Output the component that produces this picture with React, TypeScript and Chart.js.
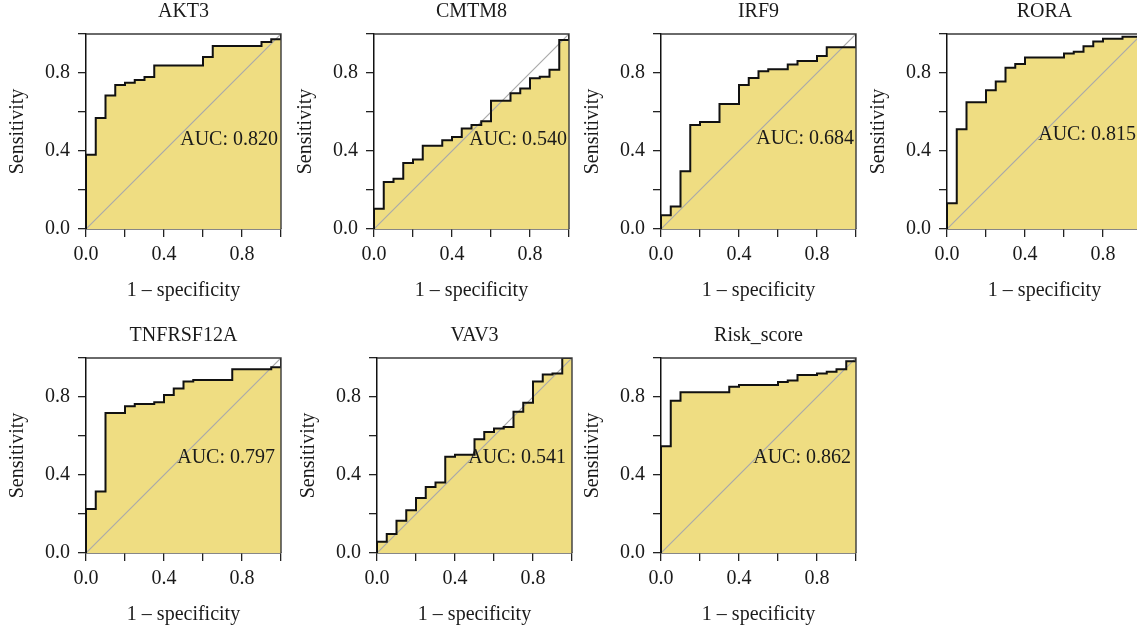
import { useEffect, useRef } from "react";
import { Chart, registerables } from "chart.js";

Chart.register(...registerables);

// ---- data -------------------------------------------------------------
const panelTitles = ["AKT3", "CMTM8", "IRF9", "RORA", "TNFRSF12A", "VAV3", "Risk_score"];
const aucValues = ["0.820", "0.540", "0.684", "0.815", "0.797", "0.541", "0.862"];
const tickLabels = ["0.0", "0.4", "0.8"];

// ROC vertices: 1 - specificity (x) and sensitivity (y) after each rise
const akt3Fpr = [0, 0, 0.05, 0.1, 0.15, 0.2, 0.25, 0.3, 0.35, 0.6, 0.65, 0.9, 0.95, 1];
const akt3Tpr = [0, 0.381, 0.569, 0.684, 0.738, 0.75, 0.764, 0.78, 0.838, 0.882, 0.938, 0.959, 0.973, 1];

const cmtm8Fpr = [0, 0, 0.05, 0.1, 0.15, 0.2, 0.25, 0.35, 0.4, 0.45, 0.5, 0.55, 0.6, 0.7, 0.75, 0.8, 0.85, 0.9, 0.95, 1];
const cmtm8Tpr = [0, 0.104, 0.241, 0.258, 0.338, 0.356, 0.427, 0.455, 0.472, 0.515, 0.533, 0.552, 0.658, 0.696, 0.72, 0.773, 0.781, 0.817, 0.969, 1];

const irf9Fpr = [0, 0, 0.05, 0.1, 0.15, 0.2, 0.3, 0.4, 0.45, 0.5, 0.55, 0.65, 0.7, 0.8, 0.85, 1];
const irf9Tpr = [0, 0.07, 0.115, 0.296, 0.533, 0.549, 0.641, 0.738, 0.774, 0.809, 0.819, 0.844, 0.862, 0.887, 0.932, 1];

const roraFpr = [0, 0, 0.05, 0.1, 0.2, 0.25, 0.3, 0.35, 0.4, 0.6, 0.65, 0.7, 0.75, 0.8, 0.9, 1];
const roraTpr = [0, 0.132, 0.511, 0.65, 0.711, 0.756, 0.827, 0.846, 0.88, 0.9, 0.909, 0.937, 0.961, 0.976, 0.986, 1];

const tnfrsf12aFpr = [0, 0, 0.05, 0.1, 0.2, 0.25, 0.35, 0.4, 0.45, 0.5, 0.55, 0.75, 0.95, 1];
const tnfrsf12aTpr = [0, 0.226, 0.316, 0.718, 0.752, 0.764, 0.773, 0.81, 0.844, 0.879, 0.887, 0.942, 0.952, 1];

const vav3Fpr = [0, 0, 0.05, 0.1, 0.15, 0.2, 0.25, 0.3, 0.35, 0.4, 0.5, 0.55, 0.6, 0.65, 0.7, 0.75, 0.8, 0.85, 0.9, 0.95, 1];
const vav3Tpr = [0, 0.058, 0.097, 0.166, 0.219, 0.282, 0.338, 0.362, 0.494, 0.504, 0.583, 0.62, 0.638, 0.646, 0.725, 0.771, 0.879, 0.915, 0.921, 1, 1];

const riskFpr = [0, 0, 0.05, 0.1, 0.35, 0.4, 0.6, 0.65, 0.7, 0.8, 0.85, 0.9, 0.95, 1];
const riskTpr = [0, 0.547, 0.781, 0.824, 0.853, 0.862, 0.877, 0.885, 0.913, 0.921, 0.93, 0.942, 0.983, 1];

const rocFpr = [akt3Fpr, cmtm8Fpr, irf9Fpr, roraFpr, tnfrsf12aFpr, vav3Fpr, riskFpr];
const rocTpr = [akt3Tpr, cmtm8Tpr, irf9Tpr, roraTpr, tnfrsf12aTpr, vav3Tpr, riskTpr];

// ---- layout -----------------------------------------------------------
const PLOT = 195; // plot square side
const LEFT_GUTTER = 86; // y axis area width
const TOP_GUTTER = 34; // space for panel title
const CANVAS_W = 291;
const CANVAS_H = 310;
const plotOrigins: [number, number][] = [
  [86, 34], [374, 34], [661, 34], [947, 34],
  [86, 358], [377, 358], [661, 358],
];
// AUC text: right inset in px and vertical anchor in data units
const aucPlacement = [
  { inset: 3, y: 0.46 }, { inset: 2, y: 0.46 }, { inset: 2, y: 0.464 }, { inset: 6, y: 0.485 },
  { inset: 6, y: 0.487 }, { inset: 6, y: 0.487 }, { inset: 5, y: 0.487 },
];

const FONT = "'Liberation Serif', 'Times New Roman', serif";
const FILL = "rgb(239,221,130)";

const panelDecor = {
  id: "panelDecor",
  afterDatasetsDraw(chart: any) {
    const { ctx, chartArea: a } = chart;
    ctx.save();
    ctx.strokeStyle = "#3a3a3a";
    ctx.lineWidth = 1.4;
    ctx.beginPath();
    ctx.moveTo(a.left, a.top);
    ctx.lineTo(a.right, a.top);
    ctx.lineTo(a.right, a.bottom);
    ctx.stroke();
    ctx.restore();
  },
  afterDraw(chart: any, _args: any, opts: any) {
    const { ctx, chartArea: a } = chart;
    const yScale = chart.scales.y;
    ctx.save();
    ctx.fillStyle = "#1a1a1a";
    ctx.font = `20px ${FONT}`;
    ctx.textBaseline = "middle";
    ctx.textAlign = "center";
    ctx.fillText(opts.title, (a.left + a.right) / 2, a.top - 22);
    ctx.textAlign = "right";
    ctx.fillText(`AUC: ${opts.auc}`, a.right - opts.inset, yScale.getPixelForValue(opts.y));
    ctx.restore();
  },
};

function tickLabel(v: number | string) {
  const s = Number(v).toFixed(1);
  return tickLabels.includes(s) ? s : "";
}

function RocPanel({ index }: { index: number }) {
  const ref = useRef<HTMLCanvasElement | null>(null);

  useEffect(() => {
    const canvas = ref.current;
    if (!canvas) return;
    const points = rocFpr[index].map((x, i) => ({ x, y: rocTpr[index][i] }));
    const axisCommon = {
      type: "linear" as const,
      min: 0,
      max: 1,
      z: 1,
      border: { display: true, color: "#111", width: 1.5 },
      grid: {
        display: true,
        drawOnChartArea: false,
        drawTicks: true,
        tickLength: 8,
        color: "#222",
        lineWidth: 1.3,
      },
    };
    const chart = new Chart(canvas, {
      type: "scatter",
      data: {
        datasets: [
          {
            data: points,
            showLine: true,
            stepped: "before",
            borderColor: "#111",
            borderWidth: 2,
            pointRadius: 0,
            fill: "origin",
            backgroundColor: FILL,
            tension: 0,
          },
          {
            data: [
              { x: 0, y: 0 },
              { x: 1, y: 1 },
            ],
            showLine: true,
            borderColor: "#a9a9a9",
            borderWidth: 1.2,
            pointRadius: 0,
            fill: false,
          },
        ],
      },
      options: {
        responsive: false,
        animation: false,
        events: [],
        layout: { padding: { top: TOP_GUTTER, right: CANVAS_W - LEFT_GUTTER - PLOT, left: 0, bottom: 0 } },
        plugins: {
          legend: { display: false },
          tooltip: { enabled: false },
          filler: { drawTime: "beforeDatasetsDraw" },
          panelDecor: {
            title: panelTitles[index],
            auc: aucValues[index],
            inset: aucPlacement[index].inset,
            y: aucPlacement[index].y,
          },
        } as any,
        scales: {
          x: {
            ...axisCommon,
            position: "bottom",
            afterFit: (s: any) => {
              s.height = CANVAS_H - TOP_GUTTER - PLOT;
            },
            ticks: {
              stepSize: 0.2,
              autoSkip: false,
              maxRotation: 0,
              padding: 6,
              color: "#1a1a1a",
              font: { family: FONT, size: 20 },
              callback: (v: any) => tickLabel(v),
            },
            title: {
              display: true,
              text: "1 \u2013 specificity",
              color: "#1a1a1a",
              font: { family: FONT, size: 20 },
              padding: { top: 0, bottom: 7 },
            },
          },
          y: {
            ...axisCommon,
            position: "left",
            afterFit: (s: any) => {
              s.width = LEFT_GUTTER;
            },
            ticks: {
              stepSize: 0.2,
              autoSkip: false,
              padding: 8,
              color: "#1a1a1a",
              font: { family: FONT, size: 20 },
              callback: (v: any) => tickLabel(v),
            },
            title: {
              display: true,
              text: "Sensitivity",
              color: "#1a1a1a",
              font: { family: FONT, size: 20 },
              padding: { top: 6, bottom: 0 },
            },
          },
        },
      },
      plugins: [panelDecor],
    } as any);
    return () => chart.destroy();
  }, [index]);

  const [ox, oy] = plotOrigins[index];
  return (
    <canvas
      ref={ref}
      width={CANVAS_W}
      height={CANVAS_H}
      style={{
        position: "absolute",
        left: ox - LEFT_GUTTER,
        top: oy - TOP_GUTTER,
        width: CANVAS_W,
        height: CANVAS_H,
      }}
    />
  );
}

export default function App() {
  return (
    <div
      style={{
        position: "fixed",
        left: 0,
        top: 0,
        width: 1137,
        height: 627,
        overflow: "hidden",
        background: "#ffffff",
      }}
    >
      {panelTitles.map((t, i) => (
        <RocPanel key={t} index={i} />
      ))}
    </div>
  );
}
